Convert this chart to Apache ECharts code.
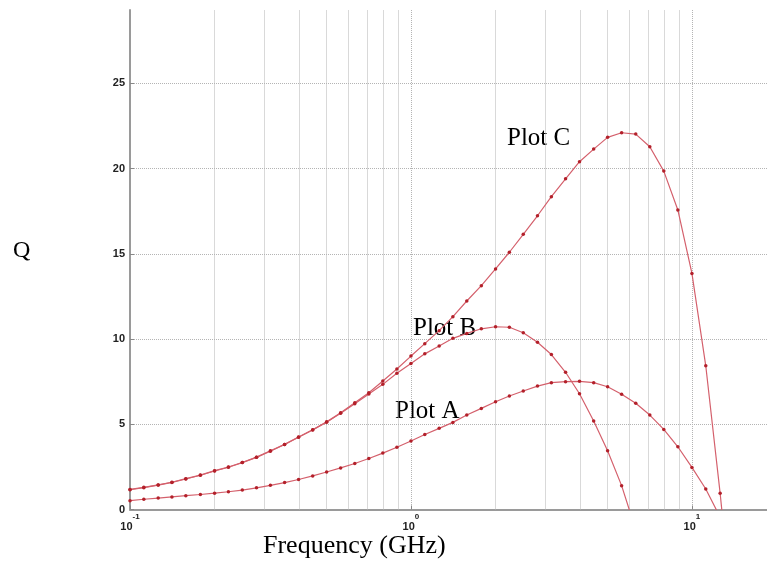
<!DOCTYPE html>
<html>
<head>
<meta charset="utf-8">
<script src="https://cdn.jsdelivr.net/npm/echarts@6/dist/echarts.min.js"></script>
<style>
    html, body {margin: 0; padding: 0; background: #fff;}
    #chart {width: 767px; height: 561px;}
</style>
</head>
<body>
<div id="chart"></div>
<script>
    // frequency points (GHz), 20 per decade
    var freq = [0.1, 0.112, 0.126, 0.141, 0.158, 0.178, 0.2, 0.224, 0.251, 0.282,
        0.316, 0.355, 0.398, 0.447, 0.501, 0.562, 0.631, 0.708, 0.794, 0.891,
        1, 1.12, 1.26, 1.41, 1.58, 1.78, 2, 2.24, 2.51, 2.82,
        3.16, 3.55, 3.98, 4.47, 5.01, 5.62, 6.31, 7.08, 7.94, 8.91,
        10, 11.2, 12.6, 14.1]

    var qPlotA = [0.52, 0.60, 0.67, 0.74, 0.81, 0.88, 0.96, 1.04, 1.14, 1.27,
        1.42, 1.58, 1.76, 1.97, 2.20, 2.44, 2.70, 2.99, 3.31, 3.65,
        4.02, 4.40, 4.76, 5.11, 5.54, 5.93, 6.32, 6.66, 6.95, 7.24,
        7.44, 7.50, 7.52, 7.44, 7.20, 6.76, 6.23, 5.54, 4.70, 3.68,
        2.47, 1.20, -0.45]

    var qPlotB = [1.16, 1.28, 1.43, 1.59, 1.79, 2.01, 2.26, 2.48, 2.75, 3.06,
        3.42, 3.81, 4.24, 4.67, 5.12, 5.64, 6.20, 6.78, 7.34, 7.99,
        8.57, 9.13, 9.59, 10.04, 10.33, 10.60, 10.72, 10.69, 10.37, 9.81,
        9.09, 8.05, 6.79, 5.19, 3.45, 1.40, -1.2]

    var qPlotC = [1.18, 1.30, 1.44, 1.60, 1.81, 2.02, 2.28, 2.49, 2.76, 3.07,
        3.45, 3.82, 4.25, 4.68, 5.14, 5.68, 6.26, 6.85, 7.54, 8.24,
        9.00, 9.73, 10.49, 11.31, 12.23, 13.13, 14.11, 15.09, 16.14, 17.23,
        18.35, 19.40, 20.40, 21.14, 21.83, 22.10, 22.02, 21.28, 19.85, 17.57,
        13.85, 8.43, 0.95, -7.0]

    // minor log grid lines
    var minorTicks = [0.2, 0.3, 0.4, 0.5, 0.6, 0.7, 0.8, 0.9, 2, 3, 4, 5, 6, 7, 8, 9]

    var lineColor = '#d4606c'
    var dotColor = '#b3202a'
    var gridColor = '#b4b4b4'
    var serif = '"Liberation Serif", "Times New Roman", serif'

    function pairs(ys) {
        return ys.map(function (y, i) {
            return [freq[i], y]
        })
    }

    function curve(name, ys) {
        return {
            name: name,
            type: 'line',
            data: pairs(ys),
            symbol: 'circle',
            symbolSize: 3.5,
            showSymbol: true,
            clip: true,
            lineStyle: {color: lineColor, width: 1.2},
            itemStyle: {color: dotColor},
            z: 5
        }
    }

    var seriesA = curve('Plot A', qPlotA)
    seriesA.markLine = {
        silent: true,
        symbol: 'none',
        label: {show: false},
        lineStyle: {color: gridColor, type: 'dotted', width: 1},
        data: minorTicks.map(function (v) {
            return {xAxis: v}
        }),
        z: 1
    }

    var myChart = echarts.init(document.getElementById('chart'))
    myChart.setOption({
        animation: false,
        backgroundColor: '#fff',
        grid: {left: 130, right: 0, top: 10, bottom: 51.5},
        xAxis: {
            type: 'log',
            logBase: 10,
            min: 0.1,
            max: 18.5,
            axisLine: {lineStyle: {color: '#9a9a9a', width: 2}},
            axisTick: {inside: true, length: 4, lineStyle: {color: '#888'}},
            axisLabel: {
                margin: 3,
                showMaxLabel: false,
                formatter: function (v) {
                    var e = Math.round(Math.log10(v))
                    return '{b|10}{s|' + e + '}'
                },
                rich: {
                    b: {fontSize: 11, fontWeight: 'bold', color: '#222', fontFamily: 'Liberation Sans', lineHeight: 20, verticalAlign: 'bottom'},
                    s: {fontSize: 8, fontWeight: 'bold', color: '#222', fontFamily: 'Liberation Sans', lineHeight: 20, verticalAlign: 'top'}
                }
            },
            splitLine: {show: true, showMinLine: false, showMaxLine: false, lineStyle: {color: gridColor, type: 'dotted'}}
        },
        yAxis: {
            type: 'value',
            min: 0,
            max: 29.3,
            interval: 5,
            axisLine: {show: true, lineStyle: {color: '#9a9a9a', width: 2}},
            axisTick: {show: true, inside: true, length: 4, lineStyle: {color: '#888'}},
            axisLabel: {
                showMaxLabel: false,
                margin: 5,
                fontSize: 11,
                fontWeight: 'bold',
                color: '#222',
                fontFamily: 'Liberation Sans'
            },
            splitLine: {show: true, showMinLine: false, showMaxLine: false, lineStyle: {color: gridColor, type: 'dotted'}}
        },
        graphic: [
            {type: 'text', left: 13, top: 239, style: {text: 'Q', font: '24px ' + serif, fill: '#000'}},
            {type: 'text', left: 507, top: 126, style: {text: 'Plot C', font: '25px ' + serif, fill: '#000'}},
            {type: 'text', left: 413, top: 316, style: {text: 'Plot B', font: '25px ' + serif, fill: '#000'}},
            {type: 'text', left: 395, top: 399, style: {text: 'Plot A', font: '25px ' + serif, fill: '#000'}},
            {type: 'text', left: 263, top: 533, style: {text: 'Frequency (GHz)', font: '26px ' + serif, fill: '#000'}}
        ],
        series: [
            seriesA,
            curve('Plot B', qPlotB),
            curve('Plot C', qPlotC)
        ]
    })
</script>
</body>
</html>
